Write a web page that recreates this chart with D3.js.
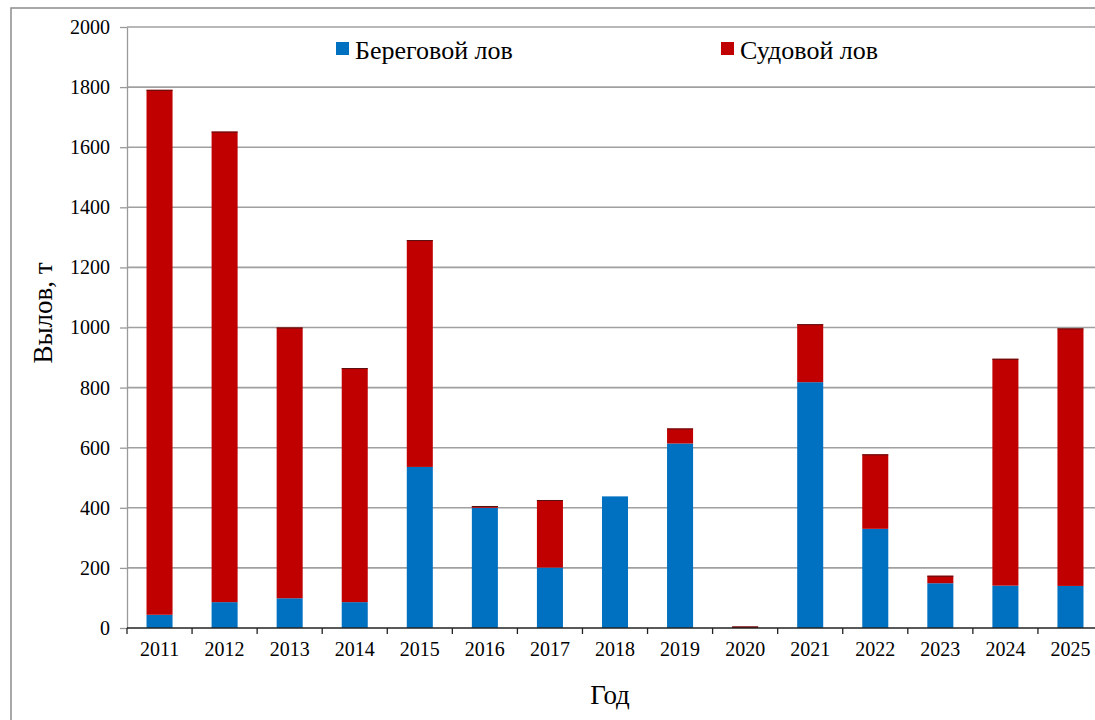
<!DOCTYPE html>
<html lang="ru">
<head>
<meta charset="utf-8">
<title>Вылов по годам</title>
<style>
  body { margin: 0; background: #fff; }
  svg { display: block; font-family: "Liberation Serif", "Times New Roman", serif; }
  .grid line { stroke: #a0a0a0; stroke-width: 1.6px; }
  .y.axis path, .y.axis line { stroke: #9a9a9a; stroke-width: 1.3px; }
  .x.axis path, .x.axis line { stroke: #222; stroke-width: 1.3px; }
  .axis text { font-family: "Liberation Serif", "Times New Roman", serif; font-size: 20px; fill: #000; }
  .title { font-size: 27px; fill: #000; }
  .legend text { font-size: 26px; fill: #000; }
</style>
</head>
<body>
<script src="https://cdnjs.cloudflare.com/ajax/libs/d3/7.8.5/d3.min.js"></script>
<script>
  var years = ["2011","2012","2013","2014","2015","2016","2017","2018","2019","2020","2021","2022","2023","2024","2025"];
  // Береговой лов, т
  var shore = [44, 86, 99, 86, 536, 400, 201, 438, 614, 0, 818, 330, 149, 141, 140];
  // Судовой лов, т
  var vessel = [1747, 1566, 901, 779, 755, 6, 225, 0, 50, 5, 193, 248, 25, 755, 857];
  var yTicks = [0, 200, 400, 600, 800, 1000, 1200, 1400, 1600, 1800, 2000];
  var seriesNames = ["Береговой лов", "Судовой лов"];
  var colors = ["#0070c0", "#c00000"];

  var W = 1095, H = 720;
  var plotLeft = 127, plotRight = 1103, plotTop = 27, plotBottom = 628;

  var svg = d3.select("body").append("svg")
    .attr("width", W).attr("height", H);

  // outer frame
  svg.append("rect")
    .attr("x", 11).attr("y", 8)
    .attr("width", W + 20).attr("height", H + 20)
    .attr("fill", "none").attr("stroke", "#8c8c8c").attr("stroke-width", 1.5);

  var x = d3.scaleBand().domain(years).range([plotLeft, plotRight])
    .paddingInner(0.6).paddingOuter(0.3);
  var y = d3.scaleLinear().domain([0, 2000]).range([plotBottom, plotTop]);

  // grid
  svg.append("g").attr("class", "grid")
    .selectAll("line").data(yTicks.slice(1)).enter().append("line")
    .attr("x1", plotLeft).attr("x2", W)
    .attr("y1", function(d) { return y(d); })
    .attr("y2", function(d) { return y(d); });

  var data = years.map(function(yr, i) {
    return { year: yr, shore: shore[i], vessel: vessel[i] };
  });
  var stack = d3.stack().keys(["shore", "vessel"])(data);

  var layers = svg.append("g").selectAll("g")
    .data(stack).enter().append("g")
    .attr("fill", function(d, i) { return colors[i]; });

  layers.selectAll("rect")
    .data(function(d) { return d; })
    .enter().append("rect")
    .attr("x", function(d) { return x(d.data.year); })
    .attr("width", x.bandwidth())
    .attr("y", function(d) { return y(d[1]); })
    .attr("height", function(d) { return Math.max(0, y(d[0]) - y(d[1])); });

  // thin dark edge on top of the red segments
  svg.append("g").selectAll("line")
    .data(stack[1].filter(function(d) { return d[1] > d[0]; }))
    .enter().append("line")
    .attr("x1", function(d) { return x(d.data.year); })
    .attr("x2", function(d) { return x(d.data.year) + x.bandwidth(); })
    .attr("y1", function(d) { return y(d[1]) + 0.5; })
    .attr("y2", function(d) { return y(d[1]) + 0.5; })
    .attr("stroke", "#5a1010").attr("stroke-width", 1);

  // y axis
  svg.append("g").attr("class", "y axis")
    .attr("transform", "translate(" + plotLeft + ",0)")
    .call(d3.axisLeft(y).tickValues(yTicks).tickFormat(d3.format("d"))
      .tickSize(7).tickPadding(10).tickSizeOuter(0));

  // x axis: labels centred, ticks at category borders
  var xAxisG = svg.append("g").attr("class", "x axis")
    .attr("transform", "translate(0," + plotBottom + ")")
    .call(d3.axisBottom(x).tickSize(0).tickPadding(14).tickSizeOuter(0));
  xAxisG.select(".domain").attr("d", "M" + plotLeft + ",0H" + W);
  var step = x.step();
  xAxisG.selectAll("line.border")
    .data(years).enter().append("line")
    .attr("class", "border")
    .attr("x1", function(d) { return x(d) - step * 0.3; })
    .attr("x2", function(d) { return x(d) - step * 0.3; })
    .attr("y1", 0).attr("y2", 6);

  // titles
  svg.append("text").attr("class", "title")
    .attr("transform", "translate(52," + 313 + ") rotate(-90)")
    .attr("text-anchor", "middle")
    .text("Вылов, т");

  svg.append("text").attr("class", "title")
    .attr("x", 610).attr("y", 704)
    .attr("text-anchor", "middle")
    .text("Год");

  // legend
  var legendX = [336, 721];
  var legend = svg.append("g").attr("class", "legend")
    .selectAll("g").data(seriesNames).enter().append("g")
    .attr("transform", function(d, i) { return "translate(" + legendX[i] + ",42)"; });
  legend.append("rect")
    .attr("width", 13).attr("height", 13)
    .attr("fill", function(d, i) { return colors[i]; });
  legend.append("text")
    .attr("x", 19).attr("y", 17)
    .text(function(d) { return d; });
</script>
</body>
</html>
